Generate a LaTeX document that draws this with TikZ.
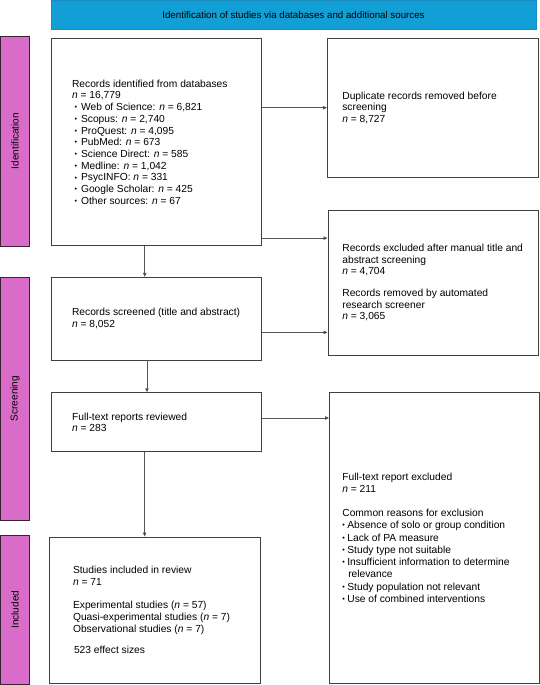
\documentclass[tikz,border=0pt]{standalone}
\usepackage{fontspec}
\setmainfont{Liberation Sans}
\usepackage{graphicx}
\usetikzlibrary{arrows.meta,calc}
\definecolor{topblue}{HTML}{129FD6}
\definecolor{topblueline}{HTML}{1B8CC0}
\definecolor{phase}{HTML}{D86CC8}
\definecolor{phaseline}{HTML}{3A2236}
\definecolor{boxline}{HTML}{404040}
\definecolor{arrline}{HTML}{555555}
\newcommand{\bul}{\raisebox{0.8pt}{\scalebox{0.7}{•}}}
\newcommand{\nn}{\textit{n}}
\begin{document}
\begin{tikzpicture}[x=1pt,y=-1pt,
  box/.style={draw=boxline, line width=0.9pt, fill=white, inner sep=0pt},
  phasebar/.style={draw=phaseline, line width=0.9pt, fill=phase, inner sep=0pt, rotate=90, minimum height=29pt, font=\fontsize{10}{11}\selectfont},
  txt/.style={anchor=west, align=left, inner sep=0pt, font=\fontsize{10.25}{11.7}\selectfont},
  arr/.style={draw=arrline, line width=0.8pt, -{Triangle[length=4pt,width=3.4pt,fill=black]}}
]
\useasboundingbox (0,0) rectangle (540,685);

% header
\node[draw=topblueline, fill=topblue, line width=0.8pt, minimum width=485pt, minimum height=29.5pt, inner sep=0pt, font=\fontsize{9.75}{11}\selectfont] (title) at (293.5,14.75) {Identification of studies via databases and additional sources};

% phase bars
\node[phasebar, minimum width=210pt] (pI) at (15,141) {Identification};
\node[phasebar, minimum width=243pt] (pS) at (15,398.5) {Screening};
\node[phasebar, minimum width=149.5pt] (pN) at (15,609.75) {Included};

% boxes
\node[box, minimum width=210.5pt, minimum height=207.2pt] (b1) at (156.25,142.1) {};
\node[box, minimum width=210.5pt, minimum height=138.5pt] (dup) at (432.75,107.75) {};
\node[box, minimum width=210pt, minimum height=145pt] (exc) at (433,282.5) {};
\node[box, minimum width=210.5pt, minimum height=82.7pt] (scr) at (156.25,318.65) {};
\node[box, minimum width=210.5pt, minimum height=59pt] (ft) at (156.25,422.2) {};
\node[box, minimum width=209.5pt, minimum height=290.5pt] (ftx) at (434.25,537.75) {};
\node[box, minimum width=211pt, minimum height=146pt] (inc) at (154.5,610) {};

% texts
\node[txt] (t1) at ([xshift=21.3pt]b1.west) {Records identified from databases\\
\nn{} = 16,779\\
\hspace*{2.5pt}\bul\hspace{4pt}Web of Science: \nn{} = 6,821\\
\hspace*{2.5pt}\bul\hspace{4pt}Scopus: \nn{} = 2,740\\
\hspace*{2.5pt}\bul\hspace{4pt}ProQuest: \nn{} = 4,095\\
\hspace*{2.5pt}\bul\hspace{4pt}PubMed: \nn{} = 673\\
\hspace*{2.5pt}\bul\hspace{4pt}Science Direct: \nn{} = 585\\
\hspace*{2.5pt}\bul\hspace{4pt}Medline: \nn{} = 1,042\\
\hspace*{2.5pt}\bul\hspace{4pt}PsycINFO: \nn{} = 331\\
\hspace*{2.5pt}\bul\hspace{4pt}Google Scholar: \nn{} = 425\\
\hspace*{2.5pt}\bul\hspace{4pt}Other sources: \nn{} = 67};

\node[txt] (tdup) at ([xshift=15.1pt]dup.west) {Duplicate records removed before\\ screening\\ \nn{} = 8,727};

\node[txt] (texc) at ([xshift=14.6pt]exc.west) {Records excluded after manual title and\\ abstract screening\\ \nn{} = 4,704\\[10pt]
Records removed by automated\\ research screener\\ \nn{} = 3,065};

\node[txt] (tscr) at ([xshift=21.3pt]scr.west) {Records screened (title and abstract)\\ \nn{} = 8,052};

\node[txt] (tft) at ([xshift=21.3pt]ft.west) {Full-text reports reviewed\\ \nn{} = 283};

\node[txt, font=\fontsize{10.25}{12.3}\selectfont] (tftx) at ([xshift=13.1pt]ftx.west) {Full-text report excluded\\ \nn{} = 211\\[11.5pt]
Common reasons for exclusion\\
\bul\hspace{2.5pt}Absence of solo or group condition\\
\bul\hspace{2.5pt}Lack of PA measure\\
\bul\hspace{2.5pt}Study type not suitable\\
\bul\hspace{2.5pt}Insufficient information to determine\\
\hspace*{5.9pt}relevance\\
\bul\hspace{2.5pt}Study population not relevant\\
\bul\hspace{2.5pt}Use of combined interventions};

\node[txt] (tinc) at ([xshift=24.3pt]inc.west) {Studies included in review\\ \nn{} = 71\\[11.7pt]
Experimental studies (\nn{} = 57)\\
Quasi-experimental studies (\nn{} = 7)\\
Observational studies (\nn{} = 7)\\[10pt]
\hspace*{1pt}523 effect sizes};

% connectors
\draw[arr] (b1.east |- dup.west) -- (dup.west);
\coordinate (a2) at ([yshift=8pt]b1.south east);
\draw[arr] (a2) -- (exc.west |- a2);
\coordinate (a3) at ([xshift=-11.5pt]b1.south);
\draw[arr] (a3) -- (scr.north -| a3);
\coordinate (a4) at ([yshift=-13.7pt]scr.east);
\draw[arr] (a4) -- (exc.west |- a4);
\coordinate (a5) at ([xshift=-9.25pt]scr.south);
\draw[arr] (a5) -- (ft.north -| a5);
\coordinate (a6) at ([yshift=4.2pt]ft.east);
\draw[arr] (a6) -- (ftx.west |- a6);
\coordinate (a7) at ([xshift=-11.6pt]ft.south);
\draw[arr] (a7) -- (inc.north -| a7);
\end{tikzpicture}
\end{document}
